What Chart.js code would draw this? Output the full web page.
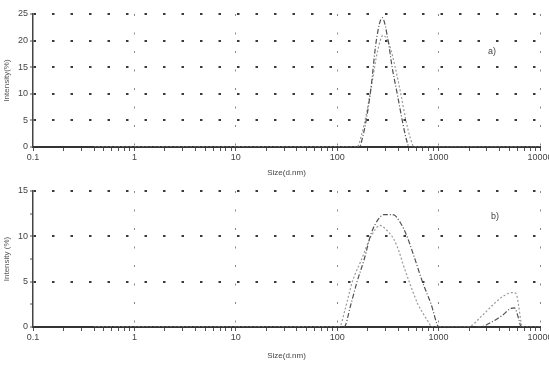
<!DOCTYPE html>
<html>
<head>
<meta charset="utf-8">
<script src="https://cdn.jsdelivr.net/npm/chart.js@4/dist/chart.umd.min.js"></script>
<style>
  html, body { margin: 0; padding: 0; background: #ffffff; }
  #wrap { position: relative; width: 549px; height: 367px; background: #fff; }
  canvas { position: absolute; left: 0; }
  #c1 { top: 0; }
  #c2 { top: 180px; }
</style>
</head>
<body>
<div id="wrap">
  <canvas id="c1" width="549" height="180"></canvas>
  <canvas id="c2" width="549" height="187"></canvas>
</div>
<script>
// ---- Data ----
// x-axis decade tick labels
const xTickLabels = ["0.1", "1", "10", "100", "1000", "10000"];
// Panel a) y ticks
const yMaxA = 25;
// Panel b) y ticks
const yMaxB = 15;

// Panel a) series 1 (darker, taller)
const sizesA1 = [0.4, 150, 165, 180, 193, 215, 243, 278, 318, 348, 391, 438, 480, 513, 10000];
const intensA1 = [0, 0, 0, 2.2, 5, 11, 20, 24.3, 20, 15, 10, 5, 1.5, 0, 0];
// Panel a) series 2 (lighter, lower)
const sizesA2 = [0.4, 150, 157, 175, 193, 220, 250, 283, 330, 373, 424, 476, 530, 575, 10000];
const intensA2 = [0, 0, 0, 2.5, 6, 12, 18, 21, 19, 15, 10, 5, 1.5, 0, 0];

// Panel b) series 1 (darker, taller main peak)
const sizesB1 = [0.4, 100, 117, 135, 157, 185, 216, 259, 290, 340, 365, 420, 476, 574, 694, 839, 1014, 2520, 3405, 4270, 5170, 5600, 6200, 6500, 10000];
const intensB1 = [0, 0, 0, 2.3, 5, 7.5, 10.3, 12, 12.4, 12.4, 12.35, 11.5, 10.3, 7.75, 4.96, 2.6, 0, 0, 0.6, 1.3, 2.05, 2.1, 0.8, 0, 0];
// Panel b) series 2 (lighter, lower main peak)
const sizesB2 = [0.4, 100, 105, 120, 141, 170, 216, 265, 300, 365, 408, 441, 513, 620, 720, 808, 850, 1930, 2710, 3405, 4270, 5360, 5790, 6480, 6600, 10000];
const intensB2 = [0, 0, 0, 2, 5, 7.2, 10, 11.2, 10.8, 9.6, 8.3, 7.1, 5, 2.6, 1.3, 0.4, 0, 0, 1.3, 2.4, 3.35, 3.8, 3.7, 0.6, 0, 0];

// ---- helpers ----
const FONT = "'Liberation Sans', 'DejaVu Sans', sans-serif";
function pts(xs, ys) { return xs.map((x, i) => ({ x: x, y: ys[i] })); }
function isDecade(v) { const l = Math.log10(v); return Math.abs(l - Math.round(l)) < 1e-9; }

function makeChart(canvasId, opts) {
  const labelPlugin = {
    id: 'panelLabel',
    afterDraw(chart) {
      const ctx = chart.ctx;
      ctx.save();
      ctx.fillStyle = '#444';
      ctx.font = '9px ' + FONT;
      ctx.textAlign = 'left';
      ctx.textBaseline = 'middle';
      ctx.fillText(opts.panelLabel, opts.labelX, opts.labelY);
      ctx.restore();
    }
  };
  return new Chart(document.getElementById(canvasId), {
    type: 'line',
    data: {
      datasets: [
        {
          data: pts(opts.xs1, opts.ys1),
          borderColor: '#505050',
          borderWidth: 1.2,
          borderDash: [5, 2, 1, 2],
          pointRadius: 0,
          cubicInterpolationMode: 'monotone',
          fill: false
        },
        {
          data: pts(opts.xs2, opts.ys2),
          borderColor: '#9a9a9a',
          borderWidth: 1.2,
          borderDash: [2, 2],
          pointRadius: 0,
          cubicInterpolationMode: 'monotone',
          fill: false
        }
      ]
    },
    options: {
      responsive: false,
      animation: false,
      devicePixelRatio: 1,
      layout: { padding: { top: opts.topPad, right: 9, bottom: 0, left: 0 } },
      plugins: { legend: { display: false }, tooltip: { enabled: false } },
      scales: {
        x: {
          type: 'logarithmic',
          min: 0.1,
          max: 10000,
          afterBuildTicks: (s) => {
            const t = [];
            for (let e = -1; e <= 4; e++) {
              for (let m = 1; m <= 9; m++) {
                const v = +(m * Math.pow(10, e)).toPrecision(6);
                if (v <= 10000) t.push({ value: v });
              }
            }
            s.ticks = t;
          },
          afterFit: (s) => { s.height = opts.xHeight; s.paddingLeft = 0; s.paddingRight = 0; },
          ticks: {
            autoSkip: false,
            maxRotation: 0,
            padding: 1,
            color: '#444',
            font: { family: FONT, size: 9 },
            callback: (v) => {
              if (!isDecade(v)) return '';
              const idx = Math.round(Math.log10(v)) + 1;
              return xTickLabels[idx];
            }
          },
          grid: {
            color: (c) => (c.tick && isDecade(c.tick.value) && c.tick.value > 0.11) ? '#8a8a8a' : 'rgba(0,0,0,0)',
            lineWidth: 1,
            tickColor: '#555',
            tickLength: 4,
            tickWidth: 1
          },
          border: { display: true, color: '#333', width: 2, dash: [2, 16.5] },
          title: {
            display: true,
            text: 'Size(d.nm)',
            color: '#444',
            font: { family: FONT, size: 8 },
            padding: { top: 0, bottom: opts.xTitlePad }
          }
        },
        y: {
          min: 0,
          max: opts.yMax,
          afterFit: (s) => { s.width = 33; },
          ticks: {
            stepSize: 2.5,
            padding: 2,
            color: '#444',
            font: { family: FONT, size: 9 },
            callback: (v) => (Math.abs(v % 5) < 1e-9 ? String(v) : '')
          },
          grid: {
            color: (c) => (c.tick && Math.abs(c.tick.value % 5) < 1e-9 && c.tick.value > 0) ? '#3a3a3a' : 'rgba(0,0,0,0)',
            lineWidth: 2,
            tickColor: '#555',
            tickLength: 3,
            tickWidth: 1
          },
          border: { display: true, color: '#444', width: 1.5, dash: [2.5, 16] },
          title: {
            display: true,
            text: opts.yTitle,
            color: '#555',
            font: { family: FONT, size: 8 },
            padding: { top: 2, bottom: 0 }
          }
        }
      }
    },
    plugins: [labelPlugin]
  });
}

makeChart('c1', {
  xs1: sizesA1, ys1: intensA1, xs2: sizesA2, ys2: intensA2,
  yMax: yMaxA, topPad: 14, xHeight: 33, xTitlePad: 2,
  yTitle: 'Intensity(%)', panelLabel: 'a)', labelX: 488, labelY: 52
});
makeChart('c2', {
  xs1: sizesB1, ys1: intensB1, xs2: sizesB2, ys2: intensB2,
  yMax: yMaxB, topPad: 11, xHeight: 40, xTitlePad: 6,
  yTitle: 'Intensity (%)', panelLabel: 'b)', labelX: 491, labelY: 37
});
</script>
</body>
</html>
